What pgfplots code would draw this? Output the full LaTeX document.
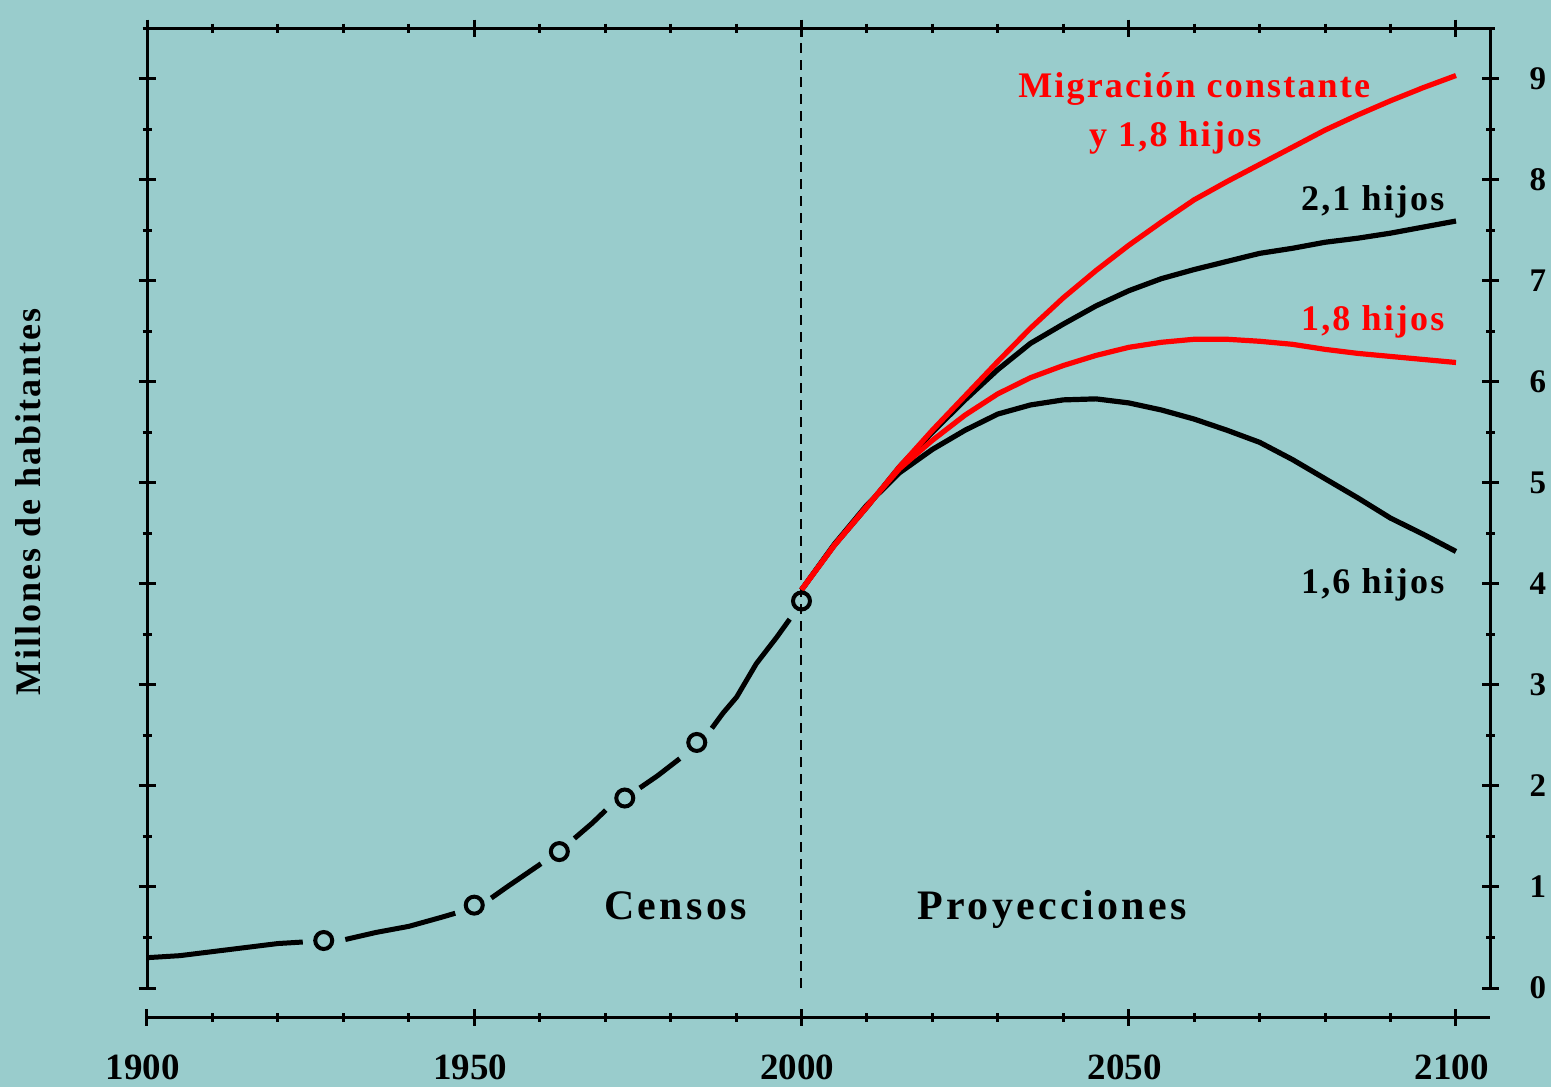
\documentclass[border=0pt]{standalone}
\usepackage{pgfplots}
\pgfplotsset{compat=1.18}
\usepackage{fontspec}
\setmainfont{Liberation Serif}
\definecolor{bg}{HTML}{99CCCC}
\definecolor{myred}{HTML}{FF0000}
\pgfplotsset{
  common/.style={
    scale only axis, width=671.5pt, height=480pt,
    xmin=1900, xmax=2105.2, ymin=0, ymax=9.5,
    at={(0pt,0pt)}, anchor=south west,
    tick align=outside,
    major tick length=8.5pt, minor tick length=4.5pt,
    tick style={black, line width=1.5pt},
    /pgf/number format/assume math mode=true,
    /pgf/number format/1000 sep={},
  },
  noarrows/.style={
    axis line style={line width=1.5pt, -},
    every outer x axis line/.append style={-},
    every outer y axis line/.append style={-},
    every inner x axis line/.append style={-},
    every inner y axis line/.append style={-},
  },
  census/.style={black, line width=2.5pt, line join=round, line cap=butt},
}
\begin{document}
\begin{tikzpicture}
\path[fill=bg, use as bounding box] (-73.5pt,-49.5pt) rectangle (702pt,494pt);
% main axis with data
\begin{axis}[common,
  axis x line=top, axis y line=left, noarrows,
  xtick={1900,1950,2000,2050,2100},
  minor xtick={1910,1920,1930,1940,1960,1970,1980,1990,2010,2020,2030,2040,2060,2070,2080,2090},
  xticklabels={},
  ytick={0,1,2,3,4,5,6,7,8,9},
  minor ytick={0.5,1.5,2.5,3.5,4.5,5.5,6.5,7.5,8.5,9.5},
  yticklabels={},
  clip=false,
]
% census line (broken around the census points)
\addplot[census] coordinates {(1900,0.30) (1905,0.32) (1910,0.36) (1915,0.40) (1920,0.44) (1923.8,0.455)};
\addplot[census] coordinates {(1930.3,0.48) (1935,0.55) (1940,0.61) (1945,0.70) (1947.1,0.74)};
\addplot[census] coordinates {(1952.6,0.89) (1955,1.00) (1960.2,1.23)};
\addplot[census] coordinates {(1965.3,1.48) (1968,1.63) (1970.1,1.76)};
\addplot[census] coordinates {(1975.3,1.98) (1978,2.10) (1981.4,2.27)};
\addplot[census] coordinates {(1986.3,2.57) (1988,2.72) (1990.1,2.88) (1993.1,3.21) (1996.2,3.47) (1998.2,3.65)};
% dashed separator
\addplot[black, line width=1pt, dash pattern=on 5pt off 3.5pt] coordinates {(2000,0) (2000,9.5)};
% 2,1 hijos
\addplot[black, line width=2.6pt, line join=round] coordinates {
(2000,3.94) (2005,4.38) (2010,4.76) (2015,5.16) (2020,5.50) (2025,5.82)
(2030,6.12) (2035,6.38) (2040,6.57) (2045,6.75) (2050,6.90) (2055,7.02)
(2060,7.11) (2065,7.19) (2070,7.27) (2075,7.32) (2080,7.38) (2085,7.42)
(2090,7.47) (2095,7.53) (2100,7.59)};
% 1,6 hijos
\addplot[black, line width=2.6pt, line join=round] coordinates {
(2000,3.94) (2005,4.39) (2010,4.78) (2015,5.10) (2020,5.33) (2025,5.52)
(2030,5.68) (2035,5.77) (2040,5.82) (2045,5.83) (2050,5.79) (2055,5.72)
(2060,5.63) (2065,5.52) (2070,5.40) (2075,5.23) (2080,5.04) (2085,4.85)
(2090,4.65) (2095,4.49) (2100,4.32)};
% 1,8 hijos
\addplot[myred, line width=2.6pt, line join=round] coordinates {
(2000,3.94) (2005,4.38) (2010,4.77) (2015,5.14) (2020,5.42) (2025,5.67)
(2030,5.88) (2035,6.04) (2040,6.16) (2045,6.26) (2050,6.34) (2055,6.39)
(2060,6.42) (2065,6.42) (2070,6.40) (2075,6.37) (2080,6.32) (2085,6.28)
(2090,6.25) (2095,6.22) (2100,6.19)};
% migracion constante y 1,8 hijos
\addplot[myred, line width=2.6pt, line join=round] coordinates {
(2000,3.94) (2005,4.38) (2010,4.76) (2015,5.16) (2020,5.52) (2025,5.86)
(2030,6.20) (2035,6.53) (2040,6.83) (2045,7.10) (2050,7.35) (2055,7.58)
(2060,7.80) (2065,7.98) (2070,8.15) (2075,8.32) (2080,8.49) (2085,8.64)
(2090,8.78) (2095,8.91) (2100,9.03)};
% census circles
\addplot[black, only marks, mark=o, mark size=4.25pt, mark options={line width=2pt, draw=black}] coordinates {
(1927,0.47) (1950,0.82) (1963,1.35) (1973,1.88) (1984,2.43) (2000,3.83)};
% labels
\node[anchor=base, font=\bfseries\fontsize{21}{24}\selectfont\addfontfeature{LetterSpace=8}] at (axis cs:1980.75,0.673) {Censos};
\node[anchor=base, font=\bfseries\fontsize{21}{24}\selectfont\addfontfeature{LetterSpace=8}] at (axis cs:2038.3,0.673) {Proyecciones};
\node[anchor=base, text=myred, font=\bfseries\fontsize{18}{22}\selectfont\addfontfeature{LetterSpace=6}] at (axis cs:2060.0,8.81) {Migración constante};
\node[anchor=base, text=myred, font=\bfseries\fontsize{18}{22}\selectfont\addfontfeature{LetterSpace=6}] at (axis cs:2057.1,8.33) {y 1,8 hijos};
\node[anchor=base east, font=\bfseries\fontsize{18}{22}\selectfont\addfontfeature{LetterSpace=6}] at (axis cs:2099.3,7.695) {2,1 hijos};
\node[anchor=base east, text=myred, font=\bfseries\fontsize{18}{22}\selectfont\addfontfeature{LetterSpace=6}] at (axis cs:2099.3,6.51) {1,8 hijos};
\node[anchor=base east, font=\bfseries\fontsize{18}{22}\selectfont\addfontfeature{LetterSpace=6}] at (axis cs:2099.3,3.90) {1,6 hijos};
\end{axis}
% right y axis
\begin{axis}[common,
  axis x line=none, axis y line=right, noarrows,
  ytick={0,1,2,3,4,5,6,7,8,9},
  minor ytick={0.5,1.5,2.5,3.5,4.5,5.5,6.5,7.5,8.5,9.5},
  yticklabel style={font=\bfseries\fontsize{16.5}{18}\selectfont, anchor=west, xshift=12pt},
]
\addplot[draw=none] coordinates {(1950,1)};
\end{axis}
% bottom x axis, shifted down
\begin{axis}[common, at={(0pt,-14.5pt)},
  axis y line=none, axis x line=bottom, noarrows,
  xtick={1900,1950,2000,2050,2100},
  minor xtick={1910,1920,1930,1940,1960,1970,1980,1990,2010,2020,2030,2040,2060,2070,2080,2090},
  xticklabel style={font=\bfseries\fontsize{18.5}{20}\selectfont, yshift=-11pt, xshift=-2pt},
]
\addplot[draw=none] coordinates {(1950,1)};
\end{axis}
\node[rotate=90, font=\bfseries\fontsize{18}{22}\selectfont\addfontfeature{LetterSpace=6}] at (-59.25pt,243pt) {Millones de habitantes};
\end{tikzpicture}
\end{document}
